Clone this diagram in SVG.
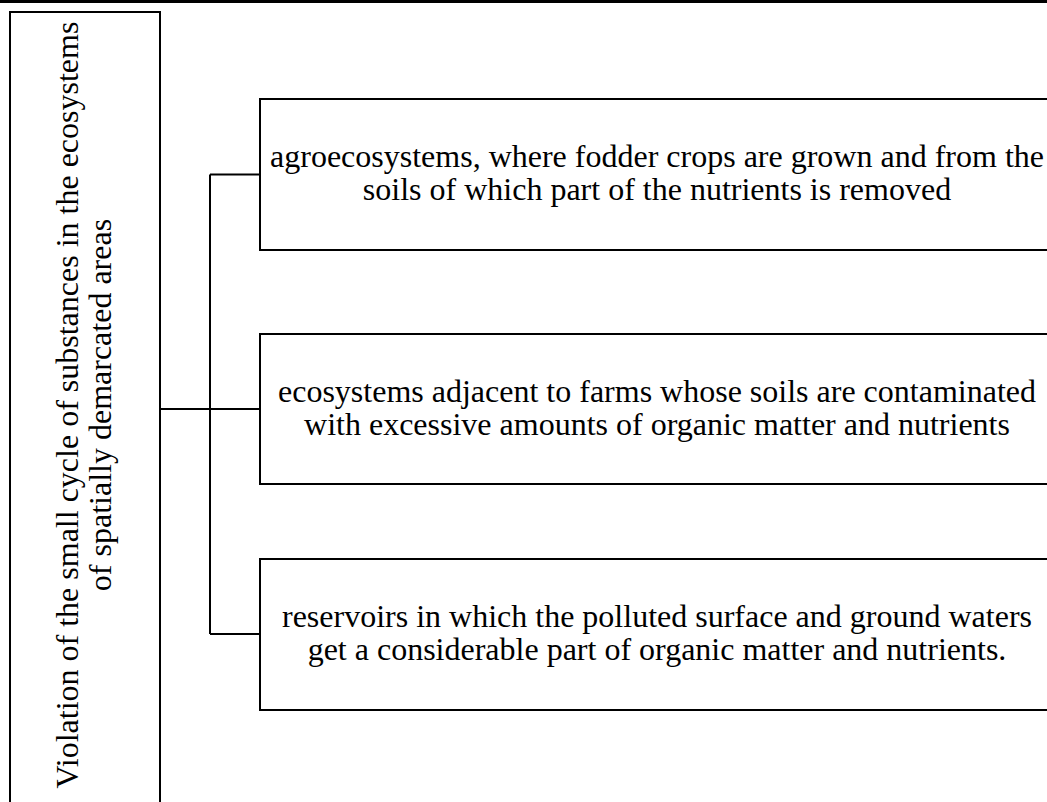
<svg xmlns="http://www.w3.org/2000/svg" width="1047" height="802" viewBox="0 0 1047 802">
<style>
.box{fill:#fff;stroke:#000;stroke-width:2}
.t{font-family:"Liberation Serif","Times New Roman",serif;font-size:32px;fill:#000;text-anchor:middle}
.c{fill:none;stroke:#000;stroke-width:2}
</style>
<rect width="1047" height="802" fill="#fff"/>
<line x1="0" y1="1.5" x2="1047" y2="1.5" stroke="#000" stroke-width="3"/>
<g id="root">
<rect class="box" x="10" y="12" width="150" height="800"/>
<text class="t" transform="translate(85,405) rotate(-90)"><tspan x="0" y="-7">Violation of the small cycle of substances in the ecosystems</tspan><tspan x="0" y="26">of spatially demarcated areas</tspan></text>
</g>
<g id="connectors">
<path class="c" d="M160,409 H260 M210,174.5 V634 M210,174.5 H260 M210,634 H260"/>
</g>
<g id="n1">
<rect class="box" x="260" y="99" width="800" height="151"/>
<text class="t"><tspan x="657" y="167">agroecosystems, where fodder crops are grown and from the</tspan><tspan x="657" y="200">soils of which part of the nutrients is removed</tspan></text>
</g>
<g id="n2">
<rect class="box" x="260" y="334" width="800" height="150"/>
<text class="t"><tspan x="657" y="401.5">ecosystems adjacent to farms whose soils are contaminated</tspan><tspan x="657" y="434.5">with excessive amounts of organic matter and nutrients</tspan></text>
</g>
<g id="n3">
<rect class="box" x="260" y="559" width="800" height="151"/>
<text class="t"><tspan x="657" y="627">reservoirs in which the polluted surface and ground waters</tspan><tspan x="657" y="660">get a considerable part of organic matter and nutrients.</tspan></text>
</g>
</svg>
